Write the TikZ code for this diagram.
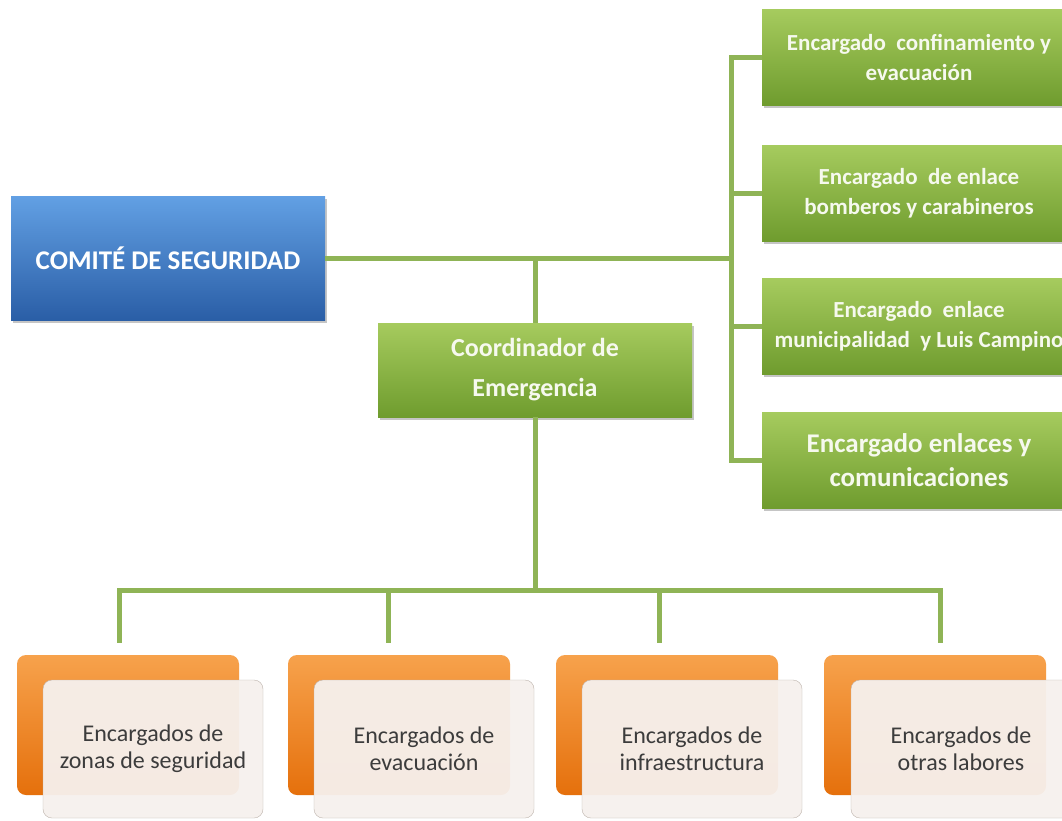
\documentclass[tikz,border=0pt]{standalone}
\usepackage{fontspec}
\setmainfont{Carlito}
\usetikzlibrary{shadows}
\definecolor{bluetop}{HTML}{62A0E4}
\definecolor{bluebot}{HTML}{2A5EA6}
\definecolor{greentop}{HTML}{A6CB5E}
\definecolor{greenbot}{HTML}{6F9C2E}
\definecolor{orangetop}{HTML}{F7A24C}
\definecolor{orangebot}{HTML}{E5700C}
\definecolor{paper}{HTML}{F6F1EE}
\definecolor{paperline}{HTML}{BDB3AC}
\definecolor{linkgreen}{HTML}{8FB456}
\definecolor{darktext}{HTML}{3C3C3C}
\definecolor{palewhite}{HTML}{F6F9EE}

\begin{document}
\begin{tikzpicture}[x=1pt,y=-1pt,
    box/.style={rectangle, align=center, inner sep=2pt, minimum width=314pt,
      drop shadow={shadow xshift=2pt, shadow yshift=-3pt, opacity=.45}},
    comitebox/.style={box, top color=bluetop, bottom color=bluebot, minimum height=124pt,
      text=white, font=\fontsize{27}{30}\selectfont\bfseries},
    greenbox/.style={box, top color=greentop, bottom color=greenbot, minimum height=96pt,
      text=palewhite, font=\fontsize{23}{30}\selectfont\bfseries},
    backbox/.style={rectangle, rounded corners=9pt, top color=orangetop, bottom color=orangebot,
      minimum width=222pt, minimum height=140pt},
    frontbox/.style={rectangle, rounded corners=9pt, fill=paper, fill opacity=.95, text opacity=1,
      draw=paperline, minimum width=220pt, minimum height=138pt, align=center,
      text=darktext, font=\fontsize{24}{27}\selectfont},
    link/.style={linkgreen, line width=5pt}]
  \clip (0,0) rectangle (1062,820);
  \fill[white] (0,0) rectangle (1062,820);

  \node[comitebox] (comite) at (168,258) {COMITÉ DE SEGURIDAD};
  \node[greenbox, minimum height=94pt, font=\fontsize{26}{40}\selectfont\bfseries] (coord) at (535,370)
    {Coordinador de\\Emergencia};

  \node[greenbox] (r1) at (919,57) {Encargado\ \ confinamiento y\\evacuación};
  \node[greenbox] (r2) at (919,193) {Encargado\ \ de enlace\\bomberos y carabineros};
  \node[greenbox] (r3) at (919,326) {Encargado\ \ enlace\\municipalidad\ \ y Luis Campino};
  \node[greenbox, font=\fontsize{27}{34}\selectfont\bfseries] (r4) at (919,460)
    {Encargado enlaces y\\comunicaciones};

  \node[backbox] (o1) at (128,725) {};
  \node[frontbox] (f1) at (153,749) {Encargados\ de\\zonas de seguridad};
  \node[backbox] (o2) at (399,725) {};
  \node[frontbox] (f2) at (424,749) {Encargados\ de\\evacuación};
  \node[backbox] (o3) at (667,725) {};
  \node[frontbox] (f3) at (692,749) {Encargados\ de\\infraestructura};
  \node[backbox] (o4) at (935,725) {};
  \node[frontbox] (f4) at (961,749) {Encargados\ de\\otras labores};

  \coordinate (rbus) at (731,258);
  \coordinate (hub) at (535,590);
  \draw[link] (comite.east) -- (rbus);
  \draw[link] (coord.north) -- (coord.north |- comite.east);
  \draw[link] (coord.south) -- (hub);
  \draw[link] (r1.west) -| (rbus);
  \draw[link] (r2.west) -| (rbus);
  \draw[link] (r3.west) -| (rbus);
  \draw[link] (r4.west) -| (rbus);
  \draw[link] ([xshift=-9pt,yshift=12pt]o1.north) |- (hub);
  \draw[link] ([xshift=-11pt,yshift=12pt]o2.north) |- (hub);
  \draw[link] ([xshift=-8pt,yshift=12pt]o3.north) |- (hub);
  \draw[link] ([xshift=5pt,yshift=12pt]o4.north) |- (hub);
\end{tikzpicture}
\end{document}
